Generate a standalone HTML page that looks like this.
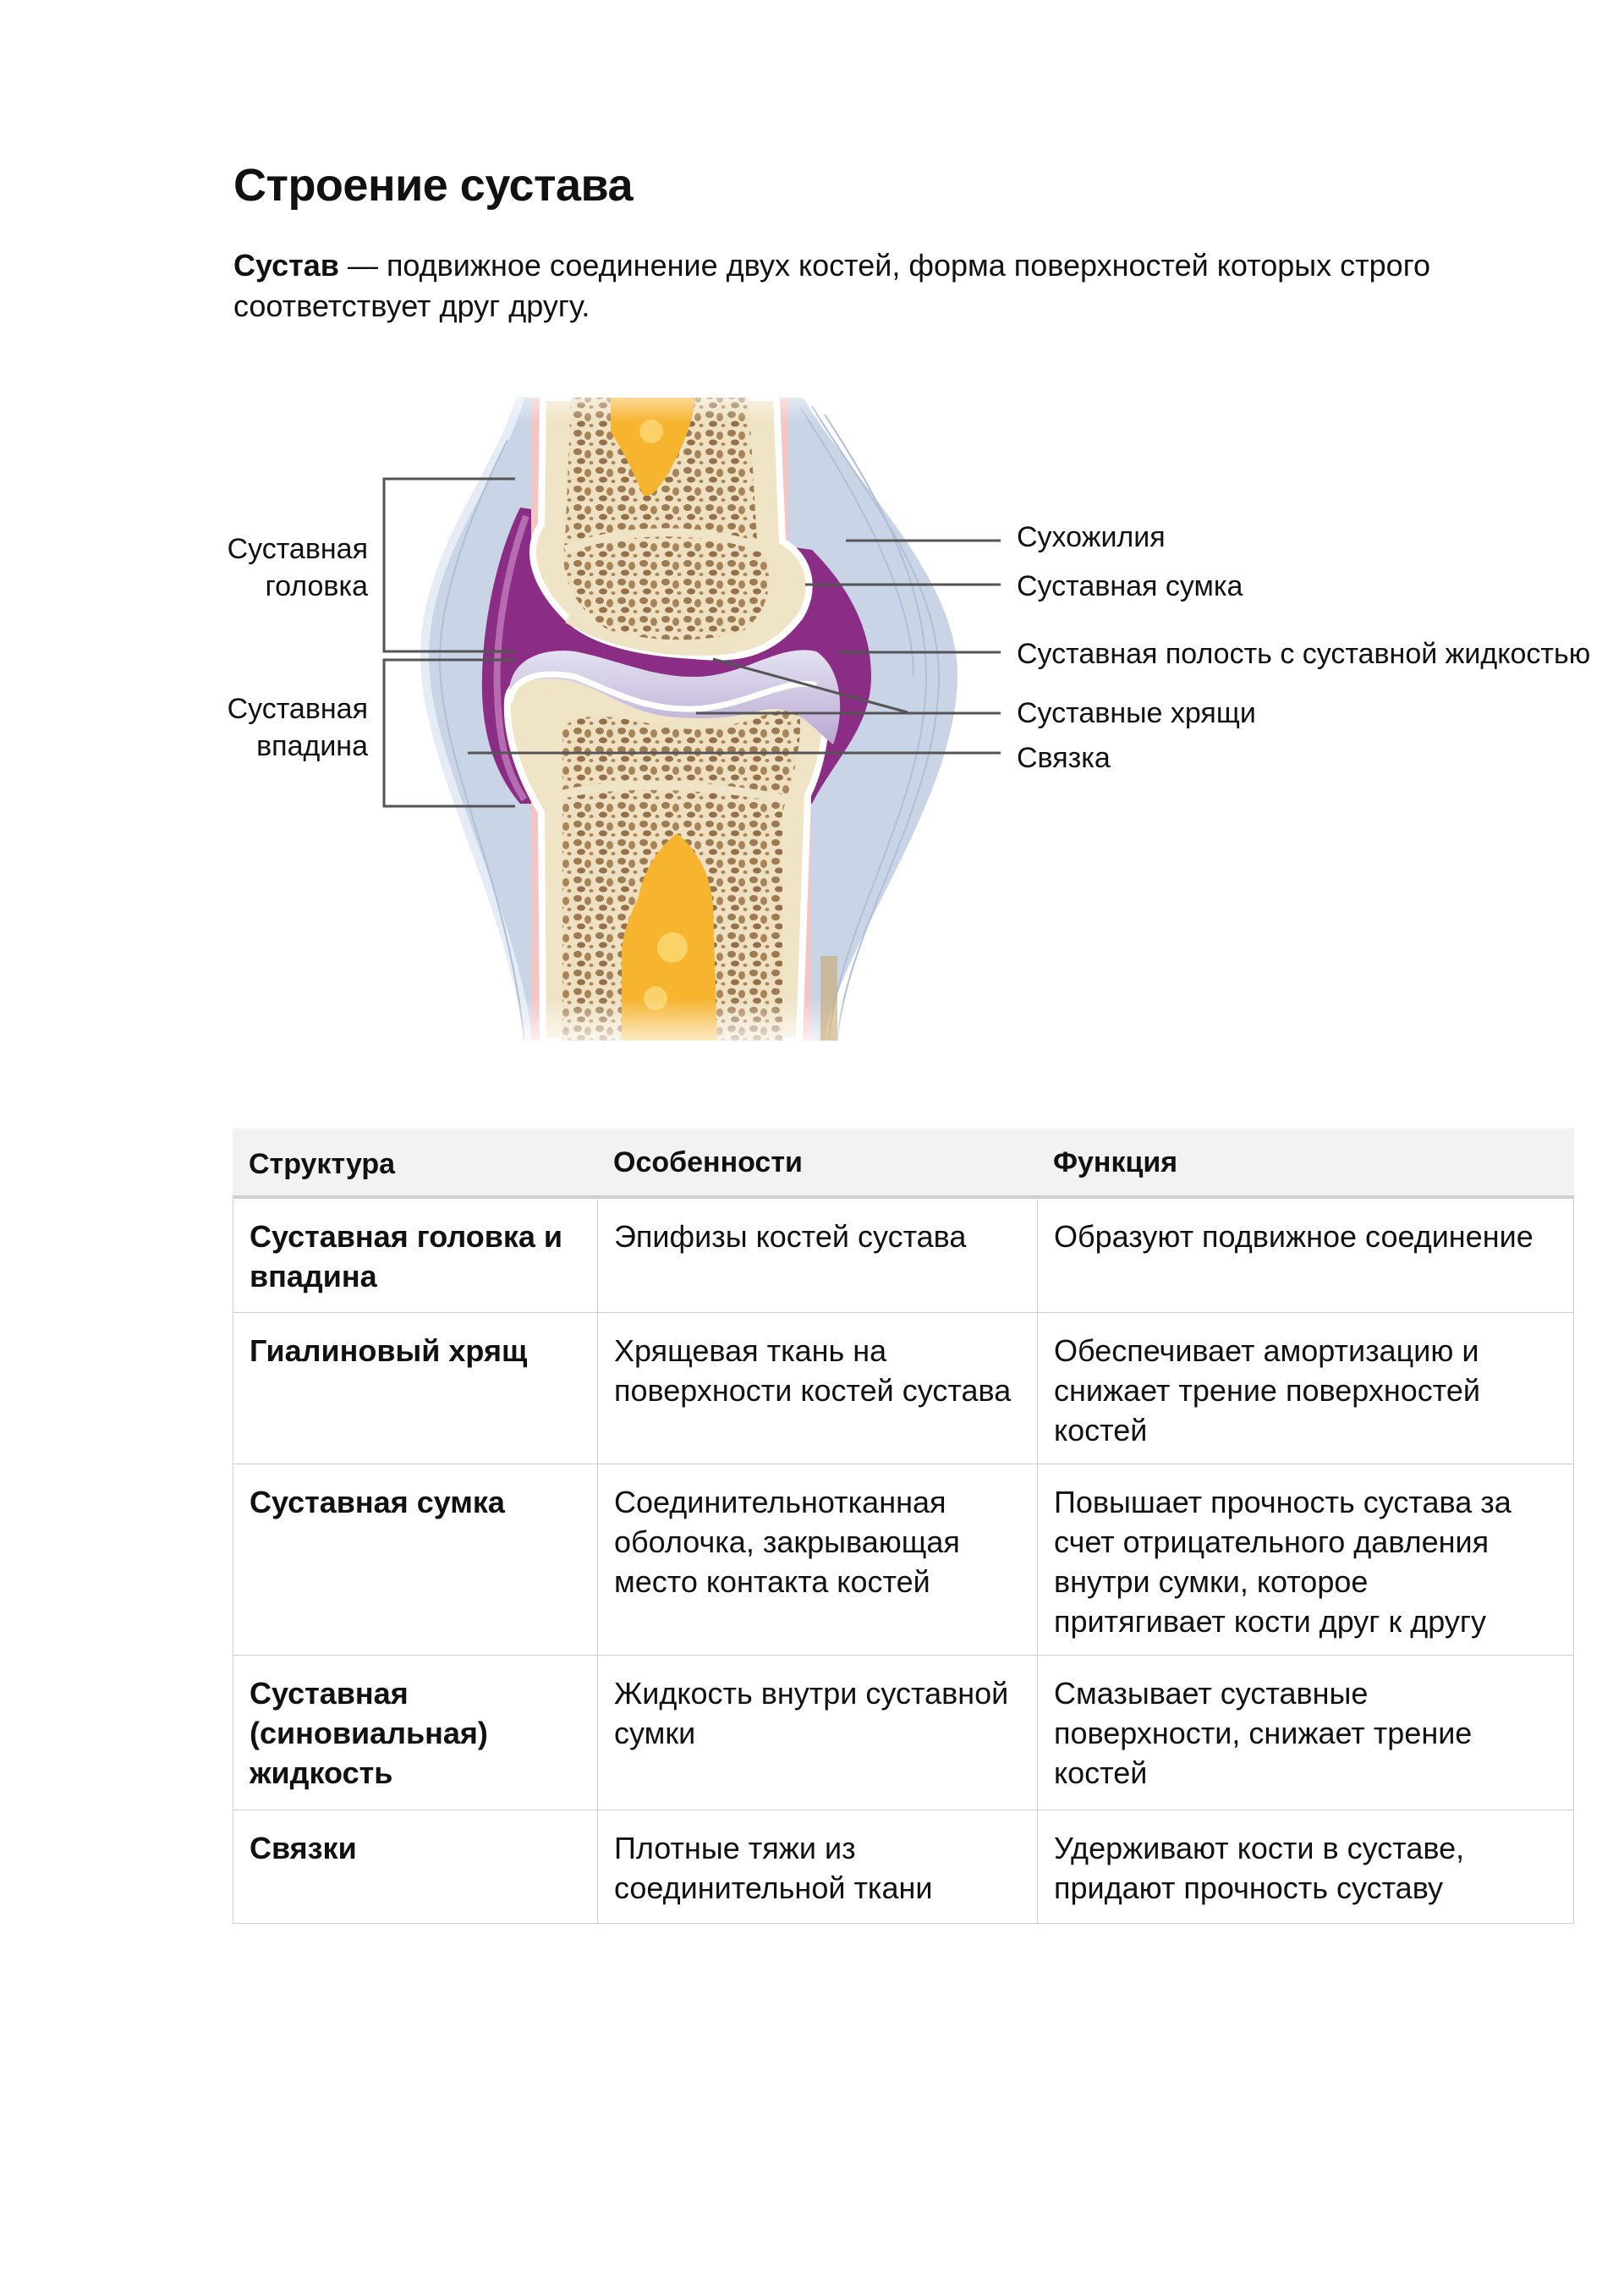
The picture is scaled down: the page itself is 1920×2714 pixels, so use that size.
<!DOCTYPE html>
<html><head><meta charset="utf-8"><style>
html,body{margin:0;padding:0;background:#fff;}
body{width:1920px;height:2714px;position:relative;font-family:"Liberation Sans","DejaVu Sans",sans-serif;color:#111;overflow:hidden;}
.abs{position:absolute;white-space:nowrap;}
h1{position:absolute;left:276px;top:188px;margin:0;font-size:54px;font-weight:bold;letter-spacing:-0.5px;}
.p{position:absolute;left:276px;top:290px;font-size:36px;line-height:48px;white-space:nowrap;}
.lab{position:absolute;font-size:34px;line-height:44px;white-space:nowrap;}
.c{position:absolute;box-sizing:border-box;border:1px solid #cfcfcf;padding:21px 0 0 19px;font-size:36px;line-height:47px;white-space:nowrap;}
.b{font-weight:bold;}
.h{background:#f2f2f2;border:none;border-bottom:3px solid #cfcfcf;font-weight:bold;padding-top:19px;font-size:34px;}
</style></head><body>
<h1>Строение сустава</h1>
<div class="p"><b>Сустав</b> — подвижное соединение двух костей, форма поверхностей которых строго<br>соответствует друг другу.</div>

<svg class="abs" style="left:0;top:0" width="1920" height="1300" viewBox="0 0 1920 1300">
<defs>
<pattern id="sp" width="26" height="22" patternUnits="userSpaceOnUse">
<rect width="26" height="22" fill="#eee0c0"/>
<ellipse cx="7" cy="6" rx="5" ry="4" fill="#9c7a52"/>
<ellipse cx="19" cy="9" rx="4" ry="5" fill="#a88558"/>
<ellipse cx="11" cy="17" rx="5" ry="3.5" fill="#947048"/>
<ellipse cx="23" cy="19" rx="2.5" ry="2" fill="#a88558"/>
</pattern>
<linearGradient id="fadeT" x1="0" y1="0" x2="0" y2="1"><stop offset="0" stop-color="#fff" stop-opacity="1"/><stop offset="1" stop-color="#fff" stop-opacity="0"/></linearGradient>
<linearGradient id="fadeB" x1="0" y1="0" x2="0" y2="1"><stop offset="0" stop-color="#fff" stop-opacity="0"/><stop offset="1" stop-color="#fff" stop-opacity="1"/></linearGradient>
<linearGradient id="cart" x1="0" y1="0" x2="0" y2="1"><stop offset="0" stop-color="#e4e2f2"/><stop offset="1" stop-color="#b9a8d2"/></linearGradient>
</defs>
<path d="M615 470 C590 560 505 650 502 770 C500 900 600 1050 625 1230 L975 1230 C990 1120 1130 950 1132 800 C1134 680 1000 560 950 470 Z" fill="#c9d4e6"/>
<path d="M615 470 C590 560 505 650 502 770 C500 900 600 1050 625 1230" fill="none" stroke="#e6ecf5" stroke-width="10"/>
<g stroke="#b0bed6" stroke-width="2" fill="none">
<path d="M960 480 C1020 580 1110 680 1110 800 C1110 950 1000 1100 990 1230"/>
<path d="M975 490 C1040 590 1095 690 1095 800 C1095 950 990 1100 980 1230"/>
<path d="M945 480 C1010 580 1080 700 1080 800"/>
<path d="M600 520 C560 600 520 700 520 780 C520 900 600 1040 620 1230"/>
</g>
<path d="M615 600 C585 660 568 750 570 820 C572 880 590 920 615 950 L960 950 C985 900 1030 860 1030 800 C1030 740 1000 690 960 650 Z" fill="#8b2d85"/>
<path d="M622 610 C600 670 585 750 588 820 C590 880 600 915 620 945" fill="none" stroke="#b56cb0" stroke-width="8"/>
<rect x="628" y="470" width="14" height="170" fill="#f1c6c4"/>
<rect x="918" y="470" width="14" height="180" fill="#f1c6c4"/>
<rect x="628" y="930" width="14" height="300" fill="#f1c6c4"/>
<rect x="945" y="940" width="14" height="290" fill="#f1c6c4"/>
<path d="M600 830 C600 800 640 790 680 800 C720 815 760 840 820 838 C880 836 930 800 965 810 C985 830 975 900 955 940 L945 1230 L642 1230 L640 960 C615 920 598 870 600 830 Z" fill="#f0e4c6" stroke="#fff" stroke-width="8"/>
<path d="M665 860 C700 830 760 860 820 862 C880 862 925 830 945 840 C950 880 935 930 925 960 L925 1230 L665 1230 Z" fill="url(#sp)"/>
<path d="M660 940 C740 920 860 930 930 945" fill="none" stroke="#f0e4c6" stroke-width="10"/>
<path d="M602 815 C605 780 640 765 680 770 C730 780 770 800 820 800 C880 800 920 760 965 770 C995 790 1000 840 985 880 C960 860 940 830 900 840 C860 850 830 850 800 848 C750 845 720 820 690 810 C650 795 615 805 602 815 Z" fill="url(#cart)"/>
<path d="M603 830 C605 800 640 792 680 800 C720 815 760 840 820 838 C880 836 930 800 965 810" fill="none" stroke="#fff" stroke-width="7"/>
<path d="M642 470 L918 470 L925 640 C960 660 965 700 945 730 C910 775 870 780 820 775 C760 772 700 760 670 730 C630 690 620 650 640 620 Z" fill="#f0e4c6" stroke="#fff" stroke-width="8"/>
<path d="M675 470 L885 470 L895 640 C920 680 910 720 880 745 C840 760 770 760 720 745 C680 720 660 680 668 640 Z" fill="url(#sp)"/>
<path d="M668 650 C740 620 850 625 905 650" fill="none" stroke="#f0e4c6" stroke-width="10"/>
<path d="M672 730 C720 760 800 775 870 765" fill="none" stroke="#efe3c5" stroke-width="14"/>
<path d="M722 470 L822 470 C818 510 800 540 790 560 C780 575 770 590 760 585 C750 560 735 530 722 510 Z" fill="#f6b42f"/>
<path d="M735 1230 L848 1230 L843 1070 C840 1030 820 1000 800 985 C780 1000 760 1030 755 1060 C745 1080 738 1100 735 1120 Z" fill="#f6b42f"/>
<circle cx="770" cy="510" r="14" fill="#fbd267"/><circle cx="795" cy="1120" r="18" fill="#fbd267"/><circle cx="775" cy="1180" r="14" fill="#fbd267"/>
<rect x="0" y="440" width="1920" height="60" fill="url(#fadeT)"/>
<rect x="0" y="1180" width="1920" height="70" fill="url(#fadeB)"/>
<rect x="970" y="1130" width="20" height="100" fill="#c9a66a" opacity="0.6"/>
<g stroke="#555" stroke-width="3" fill="none">
<polyline points="609,566 454,566 454,770 609,770"/>
<polyline points="609,780 454,780 454,953 609,953"/>
<line x1="1000" y1="639" x2="1183" y2="639"/>
<line x1="952" y1="691" x2="1183" y2="691"/>
<line x1="992" y1="771" x2="1183" y2="771"/>
<line x1="843" y1="779" x2="1073" y2="842"/>
<line x1="823" y1="843" x2="1183" y2="843"/>
<line x1="553" y1="890" x2="1183" y2="890"/>
</g>
</svg>

<div class="lab" style="right:1485px;top:627px;text-align:right">Суставная<br>головка</div>
<div class="lab" style="right:1485px;top:816px;text-align:right">Суставная<br>впадина</div>
<div class="lab" style="left:1202px;top:613px">Сухожилия</div>
<div class="lab" style="left:1202px;top:671px">Суставная сумка</div>
<div class="lab" style="left:1202px;top:751px">Суставная полость с суставной жидкостью</div>
<div class="lab" style="left:1202px;top:821px">Суставные хрящи</div>
<div class="lab" style="left:1202px;top:874px">Связка</div>

<div class="c h" style="left:275px;top:1334px;width:1586px;height:82px">Структура</div>
<div class="abs b" style="left:725px;top:1355px;font-size:34px">Особенности</div>
<div class="abs b" style="left:1245px;top:1355px;font-size:34px">Функция</div>

<div class="c b" style="left:275px;top:1416px;width:432px;height:136px">Суставная головка и<br>впадина</div>
<div class="c" style="left:706px;top:1416px;width:521px;height:136px">Эпифизы костей сустава</div>
<div class="c" style="left:1226px;top:1416px;width:635px;height:136px">Образуют подвижное соединение</div>

<div class="c b" style="left:275px;top:1551px;width:432px;height:180px">Гиалиновый хрящ</div>
<div class="c" style="left:706px;top:1551px;width:521px;height:180px">Хрящевая ткань на<br>поверхности костей сустава</div>
<div class="c" style="left:1226px;top:1551px;width:635px;height:180px">Обеспечивает амортизацию и<br>снижает трение поверхностей<br>костей</div>

<div class="c b" style="left:275px;top:1730px;width:432px;height:227px">Суставная сумка</div>
<div class="c" style="left:706px;top:1730px;width:521px;height:227px">Соединительнотканная<br>оболочка, закрывающая<br>место контакта костей</div>
<div class="c" style="left:1226px;top:1730px;width:635px;height:227px">Повышает прочность сустава за<br>счет отрицательного давления<br>внутри сумки, которое<br>притягивает кости друг к другу</div>

<div class="c b" style="left:275px;top:1956px;width:432px;height:184px">Суставная<br>(синовиальная)<br>жидкость</div>
<div class="c" style="left:706px;top:1956px;width:521px;height:184px">Жидкость внутри суставной<br>сумки</div>
<div class="c" style="left:1226px;top:1956px;width:635px;height:184px">Смазывает суставные<br>поверхности, снижает трение<br>костей</div>

<div class="c b" style="left:275px;top:2139px;width:432px;height:135px">Связки</div>
<div class="c" style="left:706px;top:2139px;width:521px;height:135px">Плотные тяжи из<br>соединительной ткани</div>
<div class="c" style="left:1226px;top:2139px;width:635px;height:135px">Удерживают кости в суставе,<br>придают прочность суставу</div>
</body></html>
